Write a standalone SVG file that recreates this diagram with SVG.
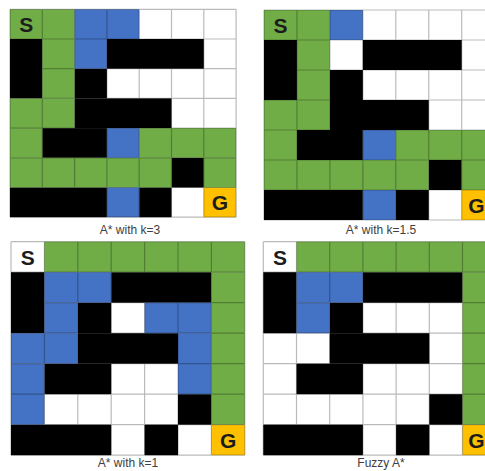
<svg xmlns="http://www.w3.org/2000/svg" xmlns:xlink="http://www.w3.org/1999/xlink" width="485" height="471" viewBox="0 0 485 471">
<style>
.k{fill:#000000}
.g{fill:#70AD47}
.b{fill:#4472C4}
.y{fill:#FFC000}
.bg{fill:#FFFFFF}
.grid{fill:none;stroke:#000000;stroke-opacity:0.27;stroke-width:1.2;vector-effect:non-scaling-stroke}
.letter{font-family:"Liberation Sans",Arial,sans-serif;font-weight:bold;font-size:21px;fill:#1c1c1c;text-anchor:middle}
.cap{font-family:"Liberation Sans",Arial,sans-serif;font-size:12px;fill:#404040;text-anchor:middle}
</style>
<defs>
<g id="walls">
<rect class="k" x="0" y="1" width="1" height="2"/>
<rect class="k" x="3" y="1" width="3" height="1"/>
<rect class="k" x="2" y="2" width="1" height="1"/>
<rect class="k" x="2" y="3" width="3" height="1"/>
<rect class="k" x="1" y="4" width="2" height="1"/>
<rect class="k" x="5" y="5" width="1" height="1"/>
<rect class="k" x="0" y="6" width="3" height="1"/>
<rect class="k" x="4" y="6" width="1" height="1"/>
<rect class="y" x="6" y="6" width="1" height="1"/>
</g>
<path id="lines" class="grid" d="M0,0H7M0,1H7M0,2H7M0,3H7M0,4H7M0,5H7M0,6H7M0,7H7M0,0V7M1,0V7M2,0V7M3,0V7M4,0V7M5,0V7M6,0V7M7,0V7"/>
</defs>
<rect width="485" height="471" fill="#FFFFFF"/>

<g id="panel-k3">
<g transform="translate(10,9.3) scale(32.3,29.7)">
<rect class="bg" x="0" y="0" width="7" height="7"/>
<use xlink:href="#walls"/>
<rect class="g" x="0" y="0" width="2" height="1"/>
<rect class="g" x="1" y="1" width="1" height="2"/>
<rect class="g" x="0" y="3" width="2" height="1"/>
<rect class="g" x="0" y="4" width="1" height="1"/>
<rect class="g" x="4" y="4" width="3" height="1"/>
<rect class="g" x="0" y="5" width="5" height="1"/>
<rect class="g" x="6" y="5" width="1" height="1"/>
<rect class="b" x="2" y="0" width="2" height="1"/>
<rect class="b" x="2" y="1" width="1" height="1"/>
<rect class="b" x="3" y="4" width="1" height="1"/>
<rect class="b" x="3" y="6" width="1" height="1"/>
<use xlink:href="#lines"/>
</g>
<text class="letter" x="26.2" y="31.8">S</text>
<text class="letter" x="220" y="209.9">G</text>
<text class="cap" x="130" y="234">A* with k=3</text>
</g>

<g id="panel-k15">
<g transform="translate(264,10) scale(32.95,30)">
<rect class="bg" x="0" y="0" width="7" height="7"/>
<use xlink:href="#walls"/>
<rect class="g" x="0" y="0" width="2" height="1"/>
<rect class="g" x="1" y="1" width="1" height="2"/>
<rect class="g" x="0" y="3" width="2" height="1"/>
<rect class="g" x="0" y="4" width="1" height="1"/>
<rect class="g" x="4" y="4" width="3" height="1"/>
<rect class="g" x="0" y="5" width="5" height="1"/>
<rect class="g" x="6" y="5" width="1" height="1"/>
<rect class="b" x="2" y="0" width="1" height="1"/>
<rect class="b" x="3" y="4" width="1" height="1"/>
<rect class="b" x="3" y="6" width="1" height="1"/>
<use xlink:href="#lines"/>
</g>
<text class="letter" x="280.5" y="32.6">S</text>
<text class="letter" x="476.5" y="212.6">G</text>
<text class="cap" x="381" y="234">A* with k=1.5</text>
</g>

<g id="panel-k1">
<g transform="translate(11,241.7) scale(33.4,30.5)">
<rect class="bg" x="0" y="0" width="7" height="7"/>
<use xlink:href="#walls"/>
<rect class="g" x="1" y="0" width="6" height="1"/>
<rect class="g" x="6" y="1" width="1" height="5"/>
<rect class="b" x="1" y="1" width="2" height="1"/>
<rect class="b" x="1" y="2" width="1" height="1"/>
<rect class="b" x="4" y="2" width="2" height="1"/>
<rect class="b" x="0" y="3" width="2" height="1"/>
<rect class="b" x="5" y="3" width="1" height="2"/>
<rect class="b" x="0" y="4" width="1" height="2"/>
<use xlink:href="#lines"/>
</g>
<text class="letter" x="27.7" y="264.5">S</text>
<text class="letter" x="228.1" y="447.5">G</text>
<text class="cap" x="128" y="467">A* with k=1</text>
</g>

<g id="panel-fuzzy">
<g transform="translate(263.3,241.7) scale(33.2,30.5)">
<rect class="bg" x="0" y="0" width="7" height="7"/>
<use xlink:href="#walls"/>
<rect class="g" x="1" y="0" width="6" height="1"/>
<rect class="g" x="6" y="1" width="1" height="5"/>
<rect class="b" x="1" y="1" width="2" height="1"/>
<rect class="b" x="1" y="2" width="1" height="1"/>
<use xlink:href="#lines"/>
</g>
<text class="letter" x="279.9" y="264.5">S</text>
<text class="letter" x="476.5" y="447.5">G</text>
<text class="cap" x="381" y="467">Fuzzy A*</text>
</g>
</svg>
